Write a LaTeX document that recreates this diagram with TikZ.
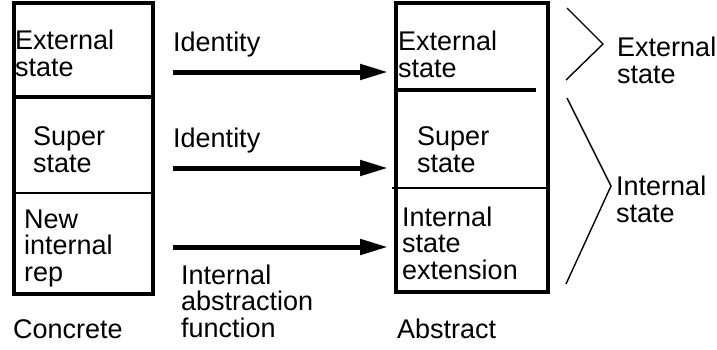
\documentclass[tikz,border=0pt]{standalone}
\usepackage{fontspec}
\setmainfont{Liberation Sans}
\usetikzlibrary{arrows.meta}
\begin{document}
\begin{tikzpicture}[x=1pt,y=-1pt,
  txt/.style={font=\fontsize{27}{26.5}\selectfont, align=left, anchor=base west, inner sep=0pt},
  thickline/.style={line width=3.2pt},
  thinline/.style={line width=1.5pt},
  bigarrow/.style={line width=5pt, -{Triangle[length=28pt,width=15pt]}},
  brace/.style={line width=1.4pt, line join=miter}]
\useasboundingbox (0,0) rectangle (717,349);
% concrete box
\draw[thickline] (14,3) rectangle (153,294);
\draw[thickline] (14,97) -- (153,97);
\draw[thinline] (14,193) -- (153,193);
% abstract box
\draw[thickline] (396,3) rectangle (548,292);
\draw[thickline] (396,90) -- (536,90);
\draw[thinline] (392,188) -- (548,188);
% texts in concrete box (base anchor = last line)
\node[txt] (ce) at (15,76) {External\\state};
\node[txt] (cs) at (33,172) {Super\\state};
\node[txt] (cn) at (24,281) {New\\internal\\rep};
% texts in abstract box
\node[txt] (ae) at (398,77) {External\\state};
\node[txt] (as) at (417,172) {Super\\state};
\node[txt] (ai) at (402,279) {Internal\\state\\extension};
% arrows
\coordinate (s1) at (173,72);  \coordinate (e1) at (388,72);
\coordinate (s2) at (173,168); \coordinate (e2) at (388,168);
\coordinate (s3) at (173,247); \coordinate (e3) at (388,247);
\draw[bigarrow] (s1) -- (e1);
\draw[bigarrow] (s2) -- (e2);
\draw[bigarrow] (s3) -- (e3);
\node[txt] (id1) at (173,51) {Identity};
\node[txt] (id2) at (173,147) {Identity};
\node[txt] (iaf) at (181,337) {Internal\\abstraction\\function};
% captions
\node[txt] (conc) at (13,338) {Concrete};
\node[txt] (abst) at (397,338) {Abstract};
% braces
\coordinate (b1a) at (567,8); \coordinate (b1b) at (603,44); \coordinate (b1c) at (566,80);
\coordinate (b2a) at (567,98); \coordinate (b2b) at (611,186); \coordinate (b2c) at (566,284);
\draw[brace] (b1a) -- (b1b) -- (b1c);
\draw[brace] (b2a) -- (b2b) -- (b2c);
\node[txt] (le) at (617,83) {External\\state};
\node[txt] (li) at (616,222) {Internal\\state};
\end{tikzpicture}
\end{document}
